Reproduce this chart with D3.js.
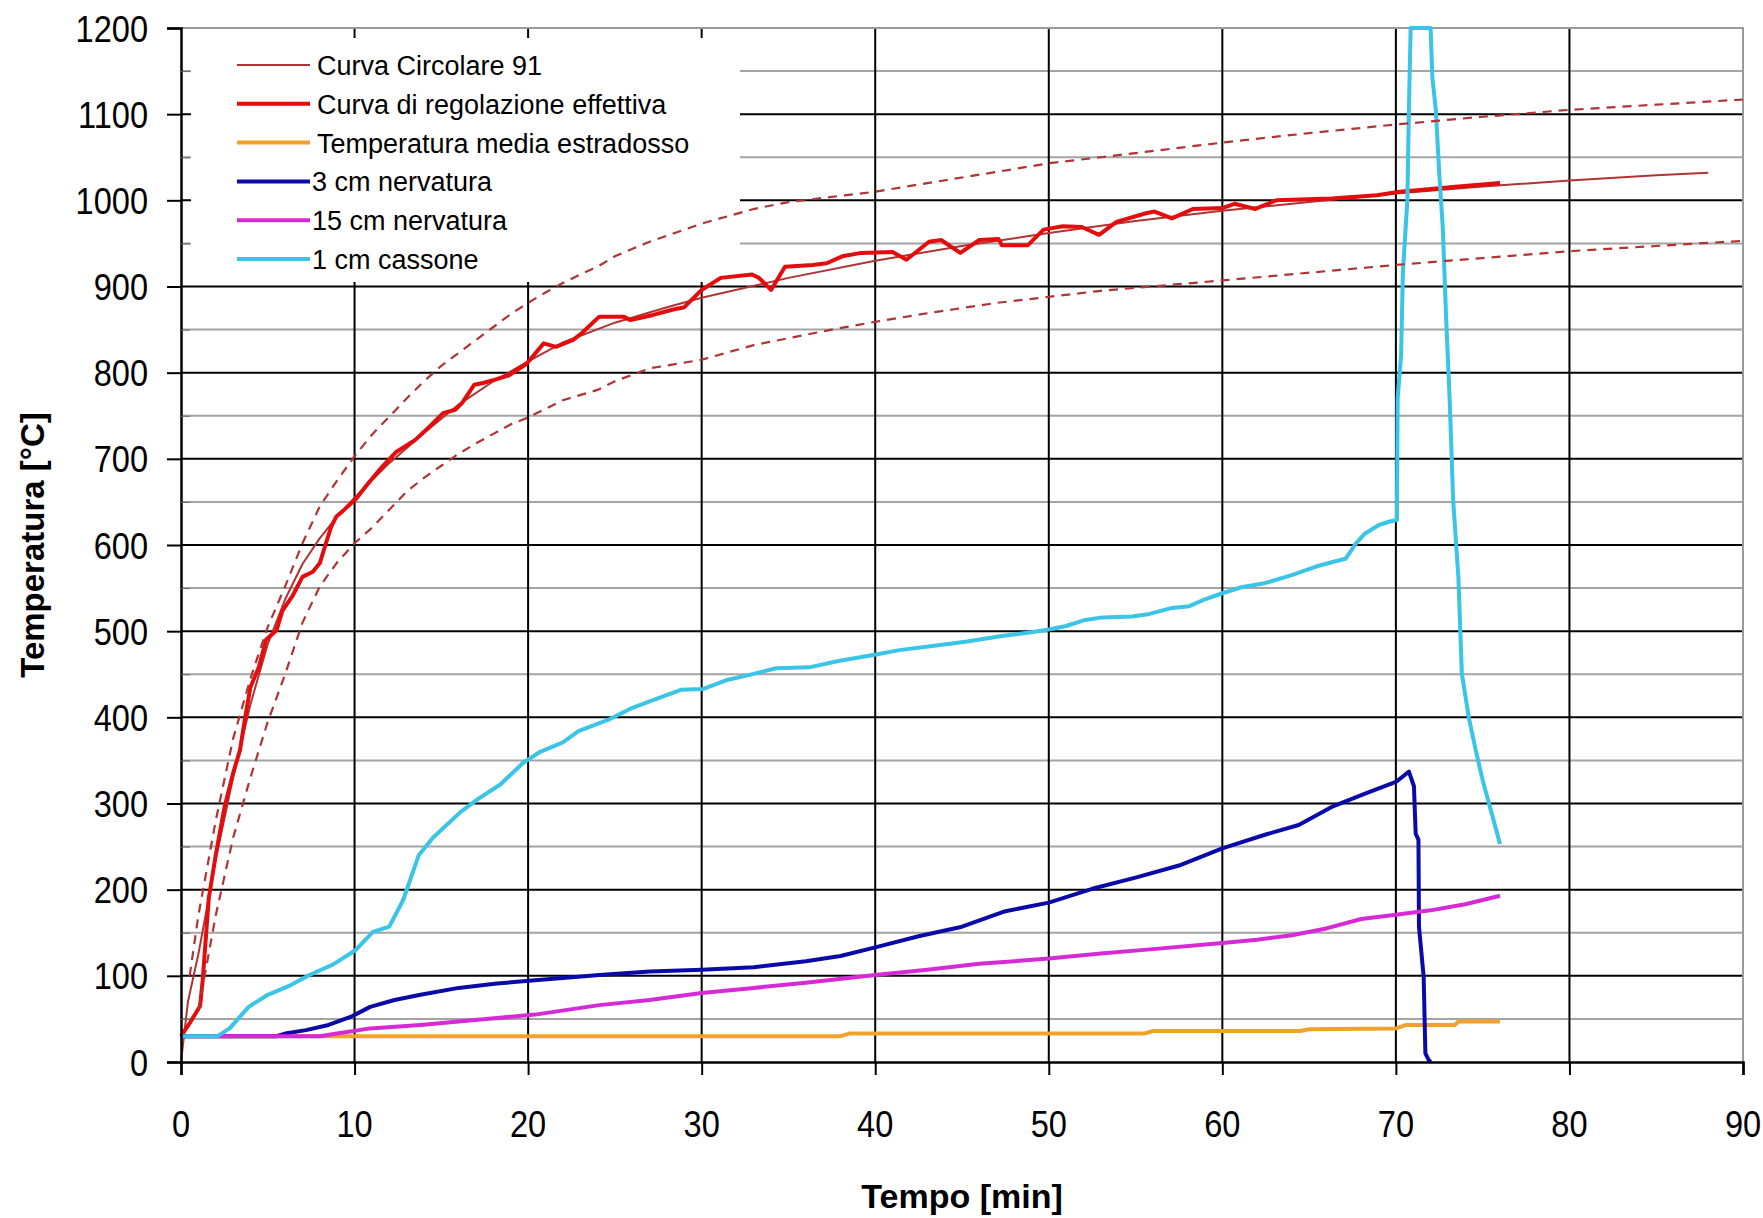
<!DOCTYPE html>
<html>
<head>
<meta charset="utf-8">
<script src="https://cdn.jsdelivr.net/npm/d3@7"></script>
<style>
  body { margin: 0; background: #fff; }
  svg { display: block; }
  text { font-family: "Liberation Sans", Arial, sans-serif; fill: #000; }
</style>
</head>
<body>
<div id="chart"></div>
<script>
// Dati: [tempo (min), temperatura (°C)]

let curva_circolare = [[0,0],[0.4,70],[1,125],[1.6,190],[2,235],[3,330],[4,415],[5,485],[6,537],[7,578],[8,608],[9,633],[10,655],[12,695],[14,730],[16,763],[18,790],[20,813],[22,835],[25,858],[28,876],[30,887],[35,910],[40,930],[45,947],[50,962],[55,976],[60,988],[65,998],[70,1008],[75,1016],[80,1023],[85,1029],[88,1032]];

let limite_sup = [[0.5,100],[1,170],[2,280],[3,375],[4,445],[5,505],[6,552],[7,602],[8,645],[9,675],[10,703],[11,728],[12,749],[13,770],[14,790],[15,808],[16,823],[17,838],[18,853],[19,868],[20,881],[21,893],[22,904],[23,914],[24,923],[25,935],[27,952],[30,973],[33,990],[35,998],[40,1010],[43,1020],[47,1033],[50,1043],[53,1050],[60,1067],[65,1078],[70,1088],[75,1097],[80,1105],[85,1111],[90,1117]];

let limite_inf = [[1,60],[2,170],[3,260],[4,330],[5,395],[6,450],[7,510],[8,552],[9,580],[10,602],[11,620],[12,641],[13,662],[14,678],[15,692],[16,706],[17,718],[18,729],[19,740],[20,748],[22,768],[24,780],[25,790],[27,805],[30,815],[33,832],[35,840],[37.5,850],[40,859],[43,869],[47,881],[50,888],[53,895],[60,907],[65,916],[70,925],[75,933],[80,941],[85,947],[90,953]];

let curva_effettiva = [[0,30],[0.5,45],[1.1,65],[1.25,95],[1.6,190],[2,240],[2.5,295],[3,335],[3.4,362],[3.7,400],[4,435],[4.5,459],[4.9,490],[5.5,501],[5.85,524],[6.4,540],[7,563],[7.6,569],[8,579],[8.35,602],[8.65,621],[8.95,633],[9.3,639],[10.1,654],[10.8,672],[11.6,691],[12.4,708],[13.5,722],[14.3,737],[15.1,753],[15.8,757],[16.2,765],[16.9,786],[17.4,788],[18.1,792],[18.9,797],[19.9,810],[20.9,834],[21.6,830],[22.6,838],[23.1,846],[24.1,865],[25.5,865],[25.9,861],[27.2,867],[28.3,873],[29,876],[30,896],[31.1,910],[32.9,914],[33.3,910],[34,896],[34.8,923],[36.4,925],[37.2,927],[38.1,935],[39.2,939],[41,940],[41.8,931],[43.1,952],[43.8,954],[44.9,939],[46,954],[47.1,955],[47.3,948],[48.8,948],[49.7,966],[50.8,970],[51.9,969],[52.9,960],[53.9,975],[55.6,985],[56.1,987],[57.1,979],[58.3,990],[60,991],[60.7,996],[61.9,990],[63.1,1000],[66.3,1002],[68.9,1006],[70.2,1010],[71.4,1012],[73.6,1016],[76,1020]];

let estradosso = [[0,30],[38,30],[38.5,33],[55.5,33],[56,36],[64.5,36],[65,38],[70,39],[70.6,43],[73.4,43],[73.6,47],[76,47]];

let nervatura_3 = [[0,30],[5.5,30],[6,33],[7.2,37],[8.5,43],[9.85,53],[10.9,64],[12.3,72],[13.8,78],[16,86],[18.2,91],[20.4,95],[24.1,101],[27,105],[30,107],[33,110],[36,117],[38,123],[40,133],[42.5,146],[45,157],[47.5,175],[50,185],[52.5,201],[55,214],[57.5,228],[60,248],[62.5,264],[64.4,275],[66.3,296],[68.3,312],[70,325],[70.75,337],[71.04,320],[71.14,265],[71.3,258],[71.33,157],[71.6,99],[71.7,10],[71.9,2],[72,0]];

let nervatura_15 = [[0,30],[8,30],[9,33],[10.9,39],[13.8,43],[17.1,49],[20.4,55],[24.1,66],[27,72],[30,80],[33,86],[36,92],[40,101],[43,107],[46,114],[50,120],[53,126],[56,131],[60,138],[62,142],[64,147],[66,155],[68,166],[70,171],[72,176],[74,183],[76,193]];

let cassone_1 = [[0,30],[2.1,30],[2.8,39],[3.9,64],[5,78],[6.3,89],[7.4,101],[8.75,113],[10.07,130],[11.06,151],[12,157],[12.8,188],[13.7,240],[14.5,260],[16.1,290],[17.1,305],[18.4,322],[19.7,347],[20.7,360],[22,371],[22.9,384],[24.6,397],[25.9,410],[27.2,420],[28.8,432],[30.1,433],[31.4,443],[32.7,449],[34.3,457],[36.2,458],[37.8,465],[39.8,472],[41.4,478],[43.4,483],[45.3,488],[47.2,494],[49.1,499],[50,502],[51,506],[52.1,513],[53.1,516],[54.8,517],[55.8,520],[57.1,527],[58.1,529],[59,537],[60,544],[61.1,551],[62.5,556],[64,565],[65.4,575],[66.3,580],[67.1,584],[67.7,602],[68.2,613],[69,623],[69.6,627],[70.06,629],[70.1,770],[70.3,820],[70.4,915],[70.66,1000],[70.75,1105],[70.85,1200],[72,1200],[72.1,1143],[72.3,1105],[72.5,1031],[72.7,969],[72.9,861],[73.1,768],[73.3,652],[73.6,563],[73.8,451],[74.2,400],[74.6,362],[75,327],[75.5,290],[76,253]];

// Etichette e assi

let legenda = ['Curva Circolare 91', 'Curva di regolazione effettiva', 'Temperatura media estradosso', '3 cm nervatura', '15 cm nervatura', '1 cm cassone'];
let tick_x = [0, 10, 20, 30, 40, 50, 60, 70, 80, 90];
let tick_y = [0, 100, 200, 300, 400, 500, 600, 700, 800, 900, 1000, 1100, 1200];
let tick_y_minor = [50, 150, 250, 350, 450, 550, 650, 750, 850, 950, 1050, 1150];

// Stili

let colori = ['#b03434', '#e40c0c', '#f0a22c', '#0a0aa8', '#d62ad6', '#3ac4e6'];
let spessori = [2, 4, 4, 4, 4, 4];

// Canvas

let width = 1763;
let height = 1218;
let plot = {left: 181, right: 1743, top: 28, bottom: 1062};

let svg = d3.select('#chart')
    .append('svg')
    .attr('width', width)
    .attr('height', height);

let scala_x = d3.scaleLinear().domain([0, 90]).range([plot.left, plot.right]);
let scala_y = d3.scaleLinear().domain([0, 1200]).range([plot.bottom, plot.top]);

// Griglia

let griglia = svg.append('g');

griglia.selectAll('.minor')
    .data(tick_y_minor)
    .enter()
    .append('line')
    .attr('x1', plot.left).attr('x2', plot.right)
    .attr('y1', d => scala_y(d)).attr('y2', d => scala_y(d))
    .attr('stroke', '#a4a4a4').attr('stroke-width', 2);

griglia.selectAll('.major')
    .data(tick_y.filter(d => d > 0 && d < 1200))
    .enter()
    .append('line')
    .attr('x1', plot.left).attr('x2', plot.right)
    .attr('y1', d => scala_y(d)).attr('y2', d => scala_y(d))
    .attr('stroke', '#000').attr('stroke-width', 2);

griglia.selectAll('.vert')
    .data(tick_x.filter(d => d > 0 && d < 90))
    .enter()
    .append('line')
    .attr('x1', d => scala_x(d)).attr('x2', d => scala_x(d))
    .attr('y1', plot.top).attr('y2', plot.bottom)
    .attr('stroke', '#000').attr('stroke-width', 2);

// bordo dell'area del grafico (alto e destra, grigio)
griglia.append('path')
    .attr('d', `M${plot.left},${plot.top}H${plot.right}V${plot.bottom}`)
    .attr('fill', 'none')
    .attr('stroke', '#9a9a9a')
    .attr('stroke-width', 2);

// Sfondo della legenda: copre solo la griglia

svg.append('rect')
    .attr('x', 191).attr('y', 38)
    .attr('width', 549).attr('height', 244)
    .attr('fill', '#fff');

// Linee

let linea = d3.line()
    .x(d => scala_x(d[0]))
    .y(d => scala_y(d[1]));

let serie = [curva_circolare, curva_effettiva, estradosso, nervatura_3, nervatura_15, cassone_1];

serie.forEach((s, i) => {
    svg.append('path')
        .datum(s)
        .attr('d', linea)
        .attr('fill', 'none')
        .attr('stroke', colori[i])
        .attr('stroke-width', spessori[i])
        .attr('stroke-linejoin', 'round');
});

// Limiti tratteggiati

[limite_sup, limite_inf].forEach(s => {
    svg.append('path')
        .datum(s)
        .attr('d', linea)
        .attr('fill', 'none')
        .attr('stroke', colori[0])
        .attr('stroke-width', 2.2)
        .attr('stroke-dasharray', '9,7');
});

// Assi

let asse_y = svg.append('g')
    .attr('transform', `translate(${plot.left},0)`)
    .call(d3.axisLeft(scala_y).tickValues(tick_y).tickSize(14).tickFormat(''));

svg.append('g')
    .attr('transform', `translate(${plot.left},0)`)
    .call(d3.axisLeft(scala_y).tickValues(tick_y_minor).tickSize(-9).tickFormat(''))
    .call(g => g.select('.domain').remove())
    .selectAll('line').attr('stroke', '#666');

let asse_x = svg.append('g')
    .attr('transform', `translate(0,${plot.bottom})`)
    .call(d3.axisBottom(scala_x).tickValues(tick_x).tickSize(13).tickFormat(''));

[asse_y, asse_x].forEach(g => {
    g.select('.domain').attr('stroke', '#000').attr('stroke-width', 2.5);
    g.selectAll('.tick line').attr('stroke', '#000').attr('stroke-width', 2);
});

// Etichette dei tick (carattere stretto come nell'originale)

svg.selectAll('.lab_y')
    .data(tick_y)
    .enter()
    .append('text')
    .text(d => d)
    .attr('transform', d => `translate(148,${scala_y(d) + 13.5}) scale(0.88,1)`)
    .attr('text-anchor', 'end')
    .attr('font-size', 37);

svg.selectAll('.lab_x')
    .data(tick_x)
    .enter()
    .append('text')
    .text(d => d)
    .attr('transform', d => `translate(${scala_x(d)},1137) scale(0.88,1)`)
    .attr('text-anchor', 'middle')
    .attr('font-size', 37);

// Titoli degli assi

svg.append('text')
    .text('Tempo [min]')
    .attr('x', (plot.left + plot.right) / 2)
    .attr('y', 1208)
    .attr('text-anchor', 'middle')
    .attr('font-size', 34)
    .attr('font-weight', 'bold');

svg.append('text')
    .text('Temperatura [°C]')
    .attr('transform', `translate(44,${(plot.top + plot.bottom) / 2}) rotate(-90)`)
    .attr('text-anchor', 'middle')
    .attr('font-size', 33)
    .attr('font-weight', 'bold');

// Legenda

let leg = svg.append('g');

let riga = i => 65 + i * 38.8;

leg.selectAll('line')
    .data(legenda)
    .enter()
    .append('line')
    .attr('x1', 237).attr('x2', 310)
    .attr('y1', (d, i) => riga(i)).attr('y2', (d, i) => riga(i))
    .attr('stroke', (d, i) => colori[i])
    .attr('stroke-width', (d, i) => spessori[i]);

leg.selectAll('text')
    .data(legenda)
    .enter()
    .append('text')
    .text(d => d)
    .attr('x', (d, i) => i < 3 ? 317 : 312)
    .attr('y', (d, i) => riga(i) + 10)
    .attr('font-size', 27);
</script>
</body>
</html>
